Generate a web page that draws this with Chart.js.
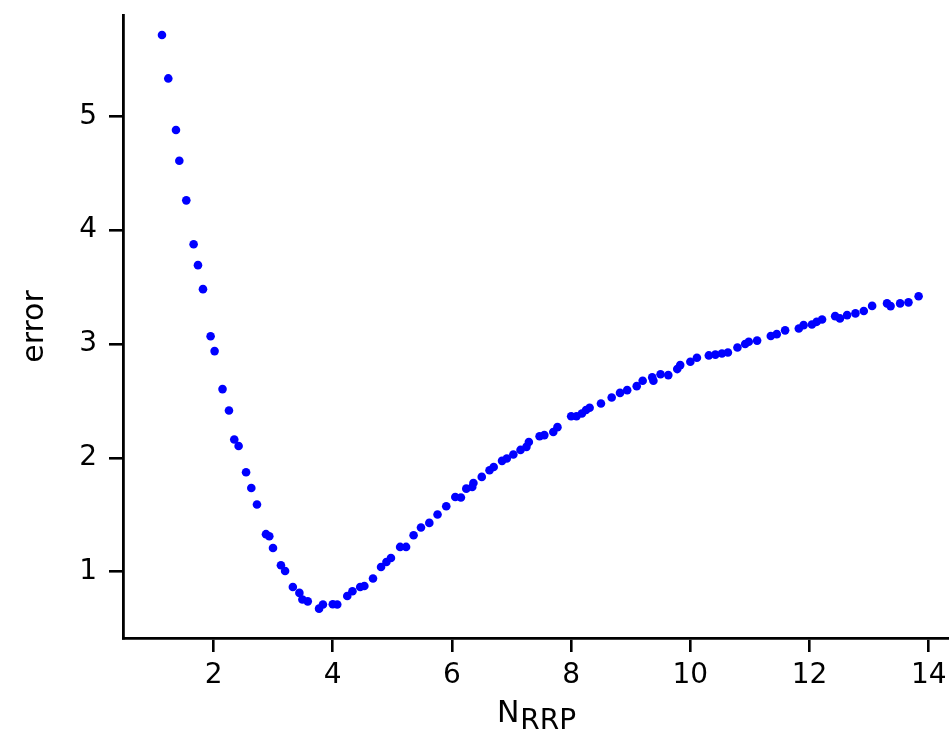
<!DOCTYPE html>
<html lang="en">
<head>
    <meta charset="UTF-8">
    <title>error vs N_RRP</title>
    <script src="https://cdn.jsdelivr.net/npm/chart.js"></script>
    <style>
        body { margin: 0; background: #fff; }
        #wrap { width: 949px; height: 733px; }
    </style>
</head>
<body>
    <div id="wrap">
        <canvas id="error-chart" width="949" height="733"></canvas>
    </div>

    <script>
        // values
        const nRRP = [
            1.134, 1.24, 1.369, 1.425, 1.542, 1.665, 1.738, 1.822, 1.95, 2.017,
            2.15, 2.258, 2.347, 2.42, 2.545, 2.633, 2.728, 2.879, 2.935, 2.997,
            3.13, 3.2, 3.33, 3.44, 3.49, 3.58, 3.77, 3.835, 4.0, 4.075,
            4.243, 4.33, 4.46, 4.53, 4.675, 4.81, 4.9, 4.976, 5.13, 5.23,
            5.356, 5.48, 5.62, 5.758, 5.904, 6.056, 6.15, 6.24, 6.34, 6.36,
            6.5, 6.63, 6.7, 6.84, 6.92, 7.03, 7.15, 7.25, 7.29, 7.47,
            7.55, 7.7, 7.77, 8.0, 8.09, 8.18, 8.25, 8.31, 8.5, 8.68,
            8.82, 8.94, 9.1, 9.2, 9.36, 9.38, 9.5, 9.63, 9.78, 9.83,
            10.0, 10.11, 10.31, 10.42, 10.53, 10.63, 10.79, 10.92, 10.98, 11.12,
            11.35, 11.45, 11.59, 11.82, 11.9, 12.04, 12.12, 12.21, 12.43, 12.51,
            12.63, 12.77, 12.91, 13.05, 13.3, 13.36, 13.52, 13.66, 13.83
        ];
        const errorValues = [
            5.714, 5.333, 4.88, 4.61, 4.262, 3.876, 3.693, 3.482, 3.069, 2.938,
            2.604, 2.416, 2.162, 2.105, 1.874, 1.736, 1.59, 1.33, 1.312, 1.209,
            1.057, 1.007, 0.866, 0.814, 0.756, 0.74, 0.676, 0.712, 0.714, 0.712,
            0.787, 0.829, 0.866, 0.875, 0.94, 1.042, 1.086, 1.121, 1.218, 1.218,
            1.32, 1.388, 1.429, 1.503, 1.575, 1.657, 1.652, 1.73, 1.745, 1.78,
            1.833, 1.892, 1.92, 1.974, 1.995, 2.03, 2.07, 2.097, 2.14, 2.19,
            2.2, 2.228, 2.27, 2.366, 2.366, 2.39, 2.42, 2.44, 2.478, 2.53,
            2.571, 2.595, 2.63, 2.677, 2.707, 2.677, 2.735, 2.727, 2.78, 2.815,
            2.844, 2.879, 2.9, 2.907, 2.917, 2.926, 2.97, 3.0, 3.02, 3.03,
            3.07, 3.087, 3.12, 3.137, 3.166, 3.172, 3.195, 3.216, 3.245, 3.225,
            3.254, 3.269, 3.29, 3.335, 3.357, 3.333, 3.357, 3.366, 3.42
        ];
        const xTicks = [2, 4, 6, 8, 10, 12, 14];
        const yTicks = [1, 2, 3, 4, 5];

        const points = nRRP.map((n, i) => ({ x: n, y: errorValues[i] }));
        const font = 'DejaVu Sans';

        // x axis title with a subscript: N_RRP
        const subscriptTitle = {
            id: 'subscriptTitle',
            afterDraw(chart) {
                const ctx = chart.ctx;
                const area = chart.chartArea;
                ctx.save();
                ctx.fillStyle = '#000';
                ctx.textBaseline = 'alphabetic';
                ctx.textAlign = 'left';
                ctx.font = `30px "${font}"`;
                const wN = ctx.measureText('N').width;
                ctx.font = `28px "${font}"`;
                const wSub = ctx.measureText('RRP').width;
                const x0 = (area.left + area.right) / 2 - (wN + wSub) / 2;
                const base = area.bottom + 84;
                ctx.font = `30px "${font}"`;
                ctx.fillText('N', x0, base);
                ctx.font = `28px "${font}"`;
                ctx.fillText('RRP', x0 + wN + 1, base + 7);
                ctx.restore();
            }
        };

        const axisGrid = { drawOnChartArea: false, color: '#000', lineWidth: 2.6, tickLength: 14 };
        const axisBorder = { color: '#000', width: 2.8 };

        new Chart(document.getElementById('error-chart'), {
            type: 'scatter',
            data: {
                datasets: [{
                    data: points,
                    backgroundColor: '#0000ff',
                    borderWidth: 0,
                    pointRadius: 4.3
                }]
            },
            options: {
                responsive: false,
                animation: false,
                layout: { autoPadding: false, padding: { top: 15, right: 0, left: 0, bottom: 0 } },
                plugins: { legend: { display: false }, tooltip: { enabled: false } },
                scales: {
                    x: {
                        type: 'linear',
                        min: 0.48,
                        max: 14.34,
                        afterBuildTicks: s => { s.ticks = xTicks.map(v => ({ value: v })); },
                        afterFit: s => { s.height = 95; s.paddingLeft = 0; s.paddingRight = 0; },
                        grid: axisGrid,
                        border: axisBorder,
                        ticks: {
                            color: '#000',
                            font: { family: font, size: 28 },
                            padding: 7,
                            maxRotation: 0,
                            autoSkip: false
                        }
                    },
                    y: {
                        type: 'linear',
                        min: 0.418,
                        max: 5.89,
                        afterBuildTicks: s => { s.ticks = yTicks.map(v => ({ value: v })); },
                        afterFit: s => { s.width = 123; s.paddingTop = 0; s.paddingBottom = 0; },
                        grid: axisGrid,
                        border: axisBorder,
                        ticks: {
                            color: '#000',
                            font: { family: font, size: 28 },
                            padding: 12
                        },
                        title: {
                            display: true,
                            text: 'error',
                            color: '#000',
                            font: { family: font, size: 30 },
                            padding: { top: 17, bottom: 0 }
                        }
                    }
                }
            },
            plugins: [subscriptTitle]
        });
    </script>
</body>
</html>
